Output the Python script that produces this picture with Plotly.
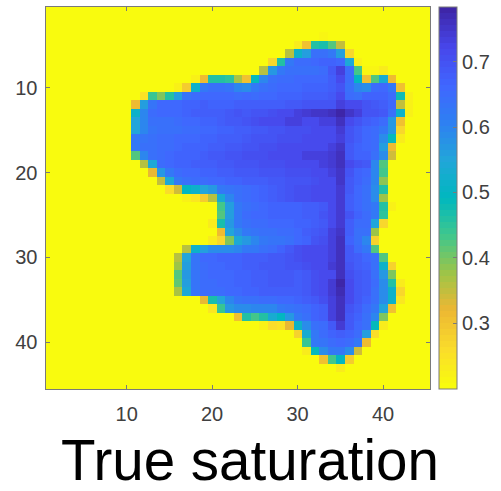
import plotly.graph_objects as go

# Saturation x100 per image row; each list starts at the column given in ROW_START.
ROW_START = {4:33,5:30,6:29,7:27,8:26,9:18,10:16,11:12,12:11,13:11,14:11,15:11,16:11,17:11,18:11,19:12,20:13,21:14,
             22:15,23:17,24:21,25:21,26:20,27:21,28:20,29:17,30:16,31:16,32:16,33:16,34:16,35:19,36:20,37:23,38:26,
             39:30,40:31,41:31,42:33,43:35}
r04 = [21]
r05 = [23,30,46,47,42,35]
r06 = [36,51,56,64,64,62,56,27]
r07 = [27,46,62,65,65,66,67,67,66,54,22]
r08 = [36,57,62,64,64,64,64,65,69,73,65,43,21,21,23]
r09 = [22,31,46,46,45,37,30,49,60,64,65,65,66,66,66,66,68,72,65,50,30,42,53,31]
r10 = [22,29,51,62,64,64,63,60,59,62,64,65,66,66,66,67,67,67,68,70,64,60,59,65,66,62,30]
r11 = [25,44,40,46,56,63,65,66,66,66,66,65,66,65,66,66,67,67,67,68,68,68,69,72,65,64,67,67,67,65,48,22]
r12 = [31,56,63,66,66,66,67,67,68,67,67,67,68,68,68,68,68,68,69,69,70,70,70,70,73,72,72,70,69,68,66,35,22]
r13 = [51,60,65,66,66,66,67,68,68,68,68,69,70,69,70,70,71,72,72,73,74,75,75,76,78,75,73,70,70,69,64,51,22]
r14 = [55,60,64,64,64,65,66,66,67,67,68,69,69,70,71,72,72,72,73,73,72,72,73,73,76,72,70,68,67,65,57,30]
r15 = [55,60,63,64,64,64,65,65,66,66,67,67,68,68,69,69,70,70,71,71,71,72,72,72,74,70,68,66,65,62,57,27]
r16 = [62,63,64,65,65,66,66,66,67,67,68,68,68,69,70,70,70,71,71,71,72,72,72,72,73,70,68,66,65,59,49,23]
r17 = [62,64,64,65,65,66,67,67,67,68,68,69,69,70,70,71,71,72,72,72,72,72,72,73,75,69,67,66,65,56,31]
r18 = [42,60,64,65,66,67,67,67,68,69,69,70,70,71,71,71,72,72,72,72,73,73,73,74,76,69,67,67,64,59,34]
r19 = [36,54,65,66,67,67,68,68,68,69,69,70,70,70,71,71,71,72,72,72,72,73,74,76,72,70,69,60,42]
r20 = [32,57,62,65,66,66,67,67,68,68,69,69,69,70,70,70,71,71,71,72,72,73,75,70,67,66,60,43]
r21 = [35,54,62,64,65,65,66,66,67,67,68,68,68,69,69,70,70,70,71,72,72,75,69,67,65,60,39]
r22 = [26,34,50,51,55,57,62,63,64,65,66,67,68,69,70,71,71,72,72,72,74,69,66,64,59,46]
r23 = [22,24,29,36,53,60,64,65,66,67,68,69,70,71,71,72,72,72,74,68,66,64,59,38]
r24 = [43,56,62,64,65,66,67,67,67,67,68,68,69,72,74,68,66,64,62,46,22]
r25 = [42,56,62,65,66,66,67,67,67,67,68,68,70,72,74,70,67,65,62,45]
r26 = [23,47,57,62,64,65,65,66,66,66,67,67,68,69,72,74,68,65,65,55,27]
r27 = [31,55,59,62,63,64,64,65,65,66,68,69,70,73,75,68,64,64,38]
r28 = [23,27,40,54,57,60,62,63,63,64,66,67,70,71,73,76,67,64,60,28]
r29 = [36,51,56,59,59,59,60,62,62,64,65,67,69,71,72,72,72,73,76,69,65,62,42]
r30 = [36,55,63,66,66,67,67,67,68,68,68,69,69,70,71,72,72,72,73,76,69,68,66,64,42]
r31 = [38,56,63,65,66,66,67,67,68,68,69,69,69,70,70,71,72,72,74,76,70,68,67,64,51,28]
r32 = [42,57,63,65,66,66,66,67,67,68,68,69,69,69,68,69,71,72,72,76,71,69,68,64,57,40]
r33 = [41,56,63,65,65,66,66,67,67,68,68,69,69,69,68,69,71,72,74,78,72,69,68,65,59,46,23]
r34 = [37,54,63,65,65,65,66,66,67,67,68,68,68,68,68,69,71,72,74,77,72,69,68,64,59,51,27]
r35 = [32,47,55,60,63,64,64,65,65,66,66,67,68,69,71,73,76,72,69,67,64,59,51,24]
r36 = [24,44,57,59,59,60,60,60,62,63,64,65,67,68,73,76,70,68,65,62,55,30]
r37 = [30,46,43,46,53,50,57,62,64,67,68,73,76,69,67,64,60,40]
r38 = [22,26,25,32,51,59,64,65,69,74,69,66,64,49,23]
r39 = [28,53,62,65,67,68,67,65,56,26]
r40 = [44,62,63,65,66,65,62,31]
r41 = [23,49,59,62,62,59,34]
r42 = [30,43,50,29]
r43 = [23]

ROWS = {4:r04,5:r05,6:r06,7:r07,8:r08,9:r09,10:r10,11:r11,12:r12,13:r13,14:r14,15:r15,16:r16,17:r17,18:r18,19:r19,
        20:r20,21:r21,22:r22,23:r23,24:r24,25:r25,26:r26,27:r27,28:r28,29:r29,30:r30,31:r31,32:r32,33:r33,34:r34,
        35:r35,36:r36,37:r37,38:r38,39:r39,40:r40,41:r41,42:r42,43:r43}
N = 45
BACKGROUND = 20
z = [[BACKGROUND / 100] * N for _ in range(N)]
for r, vals in ROWS.items():
    for i, v in enumerate(vals):
        z[r - 1][ROW_START[r] - 1 + i] = v / 100

PARULA = [(0.2422,0.1504,0.6603),(0.2803,0.2782,0.9221),(0.2500,0.4000,1.0000),(0.1800,0.5000,0.9500),
          (0.1300,0.6500,0.8500),(0.0000,0.7200,0.7500),(0.2500,0.7800,0.5500),(0.6200,0.7700,0.2800),
          (0.9300,0.7200,0.2000),(0.9800,0.8600,0.1700),(0.9763,0.9831,0.0538)]
def parula_rev(t):
    p = (1 - t) * (len(PARULA) - 1)
    i = min(int(p), len(PARULA) - 2)
    f = p - i
    c = [PARULA[i][k] * (1 - f) + PARULA[i + 1][k] * f for k in range(3)]
    return "rgb(%d,%d,%d)" % tuple(round(x * 255) for x in c)
LEVELS = 64
scale = []
for k in range(LEVELS):
    col = parula_rev(k / (LEVELS - 1))
    scale += [[k / LEVELS, col], [(k + 1) / LEVELS, col]]

W, H = 501, 491
L, R, T, B = 45.5, 430, 7, 389
AX = "#7a7a7a"
TXT = "#404040"
FONT = "Liberation Sans, Arial, sans-serif"
TICKS = [10, 20, 30, 40]

fig = go.Figure(go.Heatmap(
    z=z, x=list(range(1, N + 1)), y=list(range(1, N + 1)),
    colorscale=scale, zmin=0.199, zmax=0.784, xgap=0, ygap=0,
    colorbar=dict(x=438.5 / W, xanchor="left", xpad=0, ypad=0, y=1 - (T + B) / 2 / H, yanchor="middle",
                  thickness=17.5, thicknessmode="pixels", len=(B - T) / H, lenmode="fraction",
                  tickvals=[0.3, 0.4, 0.5, 0.6, 0.7], ticktext=["0.3", "0.4", "0.5", "0.6", "0.7"],
                  ticks="inside", ticklen=4, tickcolor=AX, tickwidth=1,
                  outlinecolor=AX, outlinewidth=1,
                  tickfont=dict(family=FONT, size=20, color=TXT))))
axis = dict(tickvals=TICKS, ticktext=[str(t) for t in TICKS], ticks="inside", ticklen=4, tickcolor=AX, tickwidth=1,
            showline=True, linecolor=AX, linewidth=1, mirror="allticks", showgrid=False, zeroline=False,
            tickfont=dict(family=FONT, size=20, color=TXT))
fig.update_layout(
    width=W, height=H, margin=dict(l=0, r=0, t=0, b=0), paper_bgcolor="white", plot_bgcolor="white",
    xaxis=dict(axis, domain=[L / W, R / W], range=[0.5, 45.5], ticklabelstandoff=7),
    yaxis=dict(axis, domain=[1 - B / H, 1 - T / H], range=[45.5, 0.5], ticklabelstandoff=3),
    annotations=[dict(text="True saturation", xref="paper", yref="paper", x=249.5 / W, y=1 - 460 / H,
                      xanchor="center", yanchor="middle", showarrow=False,
                      font=dict(family=FONT, size=56.5, color="black"))])
fig.write_html("out.html", config=dict(displayModeBar=False),
               post_script="document.body.style.margin='0';document.body.style.overflow='hidden';")
